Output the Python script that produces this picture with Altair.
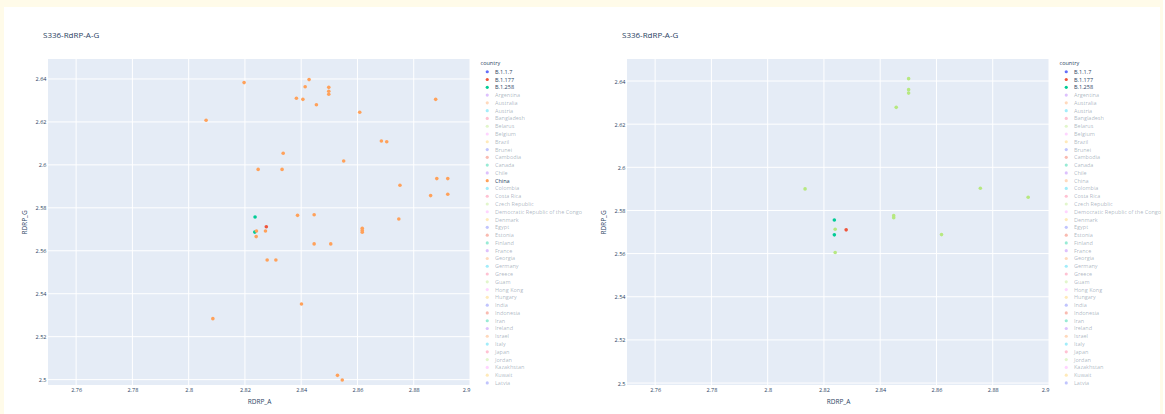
import altair as alt
import pandas as pd

TITLE = "S336-RdRP-A-G"
TEXT = "#2a3f5f"
FONT = "Open Sans"
PAGE_BG = "#fffbe9"
PLOT_BG = "#E5ECF6"

# Legend entries (lineages first, then countries)
LEGEND_ITEMS = [
    "B.1.1.7", "B.1.177", "B.1.258", "Argentina", "Australia", "Austria",
    "Bangladesh", "Belarus", "Belgium", "Brazil", "Brunei", "Cambodia",
    "Canada", "Chile", "China", "Colombia", "Costa Rica", "Czech Republic",
    "Democratic Republic of the Congo", "Denmark", "Egypt", "Estonia",
    "Finland", "France", "Georgia", "Germany", "Greece", "Guam", "Hong Kong",
    "Hungary", "India", "Indonesia", "Iran", "Ireland", "Israel", "Italy",
    "Japan", "Jordan", "Kazakhstan", "Kuwait", "Latvia",
]
EXTRA_ITEMS = ["Lithuania"]
PALETTE = ["#636EFA", "#EF553B", "#00CC96", "#AB63FA", "#FFA15A",
           "#19D3F3", "#FF6692", "#B6E880", "#FF97FF", "#FECB52"]
EXTRA_COLORS = ["#B6E880"]

X_TICKS = [2.76, 2.78, 2.8, 2.82, 2.84, 2.86, 2.88, 2.9]
Y_TICKS = [2.5, 2.52, 2.54, 2.56, 2.58, 2.6, 2.62, 2.64]
X_RANGE = [2.75, 2.9]
Y_RANGE_LEFT = [2.4975, 2.6493]
Y_RANGE_RIGHT = [2.4991, 2.6502]

# Left panel series
L_B1177_X = [2.8276]
L_B1177_Y = [2.5712]
L_B1258_X = [2.8236, 2.8235]
L_B1258_Y = [2.5757, 2.5687]
L_CHINA_X = [2.8197, 2.8428, 2.8414, 2.8498, 2.8498, 2.8498, 2.8383, 2.8406,
             2.8454, 2.8608, 2.8878, 2.8062, 2.8685, 2.8704, 2.8336, 2.8551,
             2.8247, 2.8332, 2.8882, 2.8921, 2.8751, 2.8860, 2.8921, 2.8387,
             2.8446, 2.8747, 2.8241, 2.8273, 2.8240, 2.8617, 2.8617, 2.8617,
             2.8446, 2.8505, 2.8279, 2.8310, 2.8401, 2.8086, 2.8529, 2.8546]
L_CHINA_Y = [2.6383, 2.6397, 2.6364, 2.6361, 2.6343, 2.6329, 2.6310, 2.6305,
             2.6280, 2.6245, 2.6305, 2.6208, 2.6111, 2.6108, 2.6054, 2.6018,
             2.5979, 2.5979, 2.5936, 2.5936, 2.5905, 2.5857, 2.5863, 2.5765,
             2.5768, 2.5748, 2.5692, 2.5692, 2.5666, 2.5705, 2.5695, 2.5686,
             2.5632, 2.5632, 2.5557, 2.5557, 2.5352, 2.5284, 2.5020, 2.4998]

# Right panel series
R_B1177_X = [2.8279]
R_B1177_Y = [2.5710]
R_B1258_X = [2.8237, 2.8237]
R_B1258_Y = [2.5756, 2.5687]
R_OTHER_X = [2.8133, 2.8240, 2.8240, 2.8501, 2.8501, 2.8501, 2.8457, 2.8756,
             2.8926, 2.8448, 2.8448, 2.8618]
R_OTHER_Y = [2.5900, 2.5713, 2.5605, 2.6411, 2.6360, 2.6344, 2.6278, 2.5903,
             2.5861, 2.5776, 2.5766, 2.5688]

W, H = 422, 326

domain = LEGEND_ITEMS + EXTRA_ITEMS
colors = [PALETTE[i % 10] for i in range(len(LEGEND_ITEMS))] + EXTRA_COLORS

X_AXIS = alt.Axis(values=X_TICKS, format="~g", grid=False, domain=False,
                  ticks=False, zindex=1, labelPadding=2, titlePadding=6,
                  title="RDRP_A")
Y_AXIS = alt.Axis(values=Y_TICKS, format="~g", grid=False, domain=False,
                  ticks=False, zindex=1, labelPadding=2, titlePadding=8,
                  title="RDRP_G")


def series(xs, ys, name):
    return pd.DataFrame({"RDRP_A": xs, "RDRP_G": ys, "country": [name] * len(xs)})


def panel(points, shown, y_range, card=False):
    xs = alt.Scale(domain=X_RANGE, nice=False, zero=False)
    ys = alt.Scale(domain=y_range, nice=False, zero=False)
    one = pd.DataFrame({"k": [0]})

    layers = []
    if card:
        # white card behind both panels
        layers.append(
            alt.Chart(one).mark_rect(color="white").encode(
                x=alt.value(-44), x2=alt.value(1112),
                y=alt.value(-52), y2=alt.value(420))
        )
    layers.append(
        alt.Chart(one).mark_rect(color=PLOT_BG).encode(
            x=alt.value(0), x2=alt.value(W), y=alt.value(0), y2=alt.value(H))
    )
    # panel heading
    layers.append(
        alt.Chart(one).mark_text(
            text=TITLE, align="left", baseline="middle", font=FONT,
            fontSize=8, color=TEXT).encode(
            x=alt.value(-5), y=alt.value(-23))
    )
    layers.append(
        alt.Chart(pd.DataFrame({"RDRP_A": X_TICKS})).mark_rule(
            color="white", strokeWidth=1).encode(
            x=alt.X("RDRP_A:Q", scale=xs, axis=X_AXIS))
    )
    layers.append(
        alt.Chart(pd.DataFrame({"RDRP_G": Y_TICKS})).mark_rule(
            color="white", strokeWidth=1).encode(
            y=alt.Y("RDRP_G:Q", scale=ys, axis=Y_AXIS))
    )

    shown_list = "[" + ",".join("'" + s + "'" for s in shown) + "]"
    fade = f"indexof({shown_list}, datum.label) >= 0 ? 1 : 0.4"

    layers.append(
        alt.Chart(points).mark_circle(size=13, opacity=1).encode(
            x=alt.X("RDRP_A:Q", scale=xs, axis=X_AXIS),
            y=alt.Y("RDRP_G:Q", scale=ys, axis=Y_AXIS),
            color=alt.Color(
                "country:N",
                scale=alt.Scale(domain=domain, range=colors),
                legend=alt.Legend(
                    title="country", values=LEGEND_ITEMS, orient="right",
                    offset=9, padding=1.5, symbolOffset=4, symbolType="circle",
                    symbolSize=10, rowPadding=0.78, labelOffset=5,
                    symbolLimit=60,
                    labelOpacity=alt.ExprRef(expr=fade),
                    symbolOpacity=alt.ExprRef(expr=fade),
                    titlePadding=3,
                ),
            ),
        )
    )
    return alt.layer(*layers).properties(
        width=W, height=H,
        view=alt.ViewBackground(stroke=None, fill=None),
    )


left_pts = pd.concat([
    series(L_B1177_X, L_B1177_Y, "B.1.177"),
    series(L_B1258_X, L_B1258_Y, "B.1.258"),
    series(L_CHINA_X, L_CHINA_Y, "China"),
], ignore_index=True)

right_pts = pd.concat([
    series(R_B1177_X, R_B1177_Y, "B.1.177"),
    series(R_B1258_X, R_B1258_Y, "B.1.258"),
    series(R_OTHER_X, R_OTHER_Y, EXTRA_ITEMS[0]),
], ignore_index=True)

left = panel(left_pts, ["B.1.1.7", "B.1.177", "B.1.258", "China"], Y_RANGE_LEFT, card=True)
right = panel(right_pts, ["B.1.1.7", "B.1.177", "B.1.258"], Y_RANGE_RIGHT)

chart = alt.hconcat(left, right, spacing=157, bounds="flush").resolve_scale(
    color="independent", x="independent", y="independent"
).resolve_legend(color="independent").properties(
    background=PAGE_BG,
    padding={"left": 4, "top": 7, "right": 0, "bottom": 0},
    autosize=alt.AutoSizeParams(type="pad"),
).configure_axis(
    labelFont=FONT, titleFont=FONT, labelFontSize=5.5, titleFontSize=6.5,
    labelColor=TEXT, titleColor=TEXT, titleFontWeight="normal",
).configure_legend(
    labelFont=FONT, titleFont=FONT, labelFontSize=5.5, titleFontSize=5.5,
    labelColor=TEXT, titleColor=TEXT, titleFontWeight="normal",
    labelLimit=0,
)

chart.save("out.html", embed_options={"renderer": "svg", "actions": False})
